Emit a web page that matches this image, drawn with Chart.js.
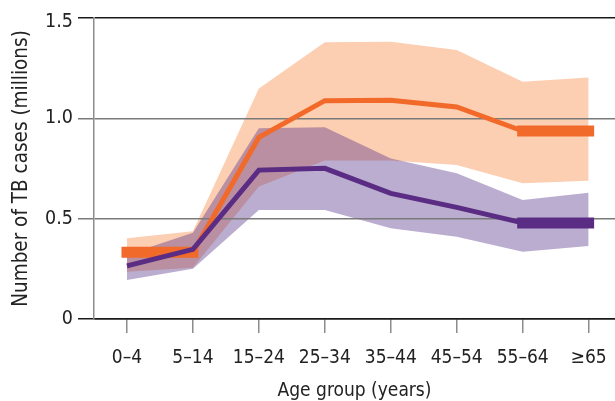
<!DOCTYPE html>
<html>
<head>
<meta charset="utf-8">
<script src="https://cdn.jsdelivr.net/npm/chart.js@4.4.0/dist/chart.umd.min.js"></script>
<style>
  html, body { margin: 0; padding: 0; background: #fff; }
  #wrap { width: 615px; height: 401px; }
</style>
</head>
<body>
<div id="wrap"><canvas id="tbChart" width="615" height="401"></canvas></div>
<script>
// age groups on the x axis
const ageGroups = ['0–4', '5–14', '15–24', '25–34', '35–44', '45–54', '55–64', '≥65'];

// orange series (best estimate, pooled groups, uncertainty band), millions
const menBest   = [null, 0.333, 0.905, 1.088, 1.090, 1.057, 0.937, null];
const menPooled = [0.333, 0.333, null, null, null, null, 0.937, 0.937];
const menHigh   = [0.402, 0.437, 1.149, 1.379, 1.382, 1.340, 1.182, 1.204];
const menLow    = [0.236, 0.255, 0.660, 0.790, 0.790, 0.767, 0.676, 0.689];

// purple series
const womenBest   = [0.265, 0.347, 0.742, 0.751, 0.626, 0.556, 0.479, null];
const womenPooled = [null, null, null, null, null, null, 0.479, 0.479];
const womenHigh   = [0.320, 0.430, 0.950, 0.955, 0.800, 0.726, 0.593, 0.629];
const womenLow    = [0.194, 0.250, 0.543, 0.543, 0.452, 0.410, 0.335, 0.364];

// y axis ticks
const yTicks = [0, 0.5, 1.0, 1.5];

const ORANGE = '#F26A2A';
const PURPLE = '#5B2C83';
const PEACH = '#FCCEB2';
const LAVENDER = 'rgba(85, 50, 135, 0.4)';
const FONT = "'Liberation Sans Narrow', 'DejaVu Sans Condensed', 'Liberation Sans', sans-serif";

const pts = values => values.map((v, i) => ({ x: i, y: v }));

const lineDefaults = { pointRadius: 0, pointHoverRadius: 0, tension: 0, fill: false, borderJoinStyle: 'miter' };
const bandDefaults = { pointRadius: 0, pointHoverRadius: 0, tension: 0, borderWidth: 0, borderColor: 'transparent' };

new Chart(document.getElementById('tbChart').getContext('2d'), {
  type: 'line',
  data: {
    datasets: [
      { ...lineDefaults, data: pts(womenPooled), borderColor: PURPLE, borderWidth: 11, borderCapStyle: 'square', order: 0 },
      { ...lineDefaults, data: pts(womenBest), borderColor: PURPLE, borderWidth: 5, order: 1 },
      { ...lineDefaults, data: pts(menPooled), borderColor: ORANGE, borderWidth: 11, borderCapStyle: 'square', order: 2 },
      { ...lineDefaults, data: pts(menBest), borderColor: ORANGE, borderWidth: 5, order: 3 },
      { ...bandDefaults, data: pts(womenHigh), fill: '+1', backgroundColor: LAVENDER, order: 4 },
      { ...bandDefaults, data: pts(womenLow), fill: false, order: 5 },
      { ...bandDefaults, data: pts(menHigh), fill: '+1', backgroundColor: PEACH, order: 6 },
      { ...bandDefaults, data: pts(menLow), fill: false, order: 7 }
    ]
  },
  options: {
    responsive: false,
    animation: false,
    events: [],
    layout: { padding: { top: 18, right: 0, bottom: 0, left: 0 } },
    scales: {
      x: {
        type: 'linear',
        min: -0.5,
        max: 7.4,
        afterBuildTicks: s => { s.ticks = ageGroups.map((_, i) => ({ value: i })); },
        afterFit: s => { s.height = 82; s.paddingLeft = 0; s.paddingRight = 0; },
        grid: { drawOnChartArea: false, drawTicks: true, tickLength: 14, color: '#8c8c8c', lineWidth: 1.5 },
        border: { display: true, color: '#1a1a1a', width: 1.5 },
        ticks: {
          autoSkip: false,
          maxRotation: 0,
          padding: 14,
          color: '#222',
          font: { family: FONT, size: 19 },
          callback: v => ageGroups[v] ?? ''
        },
        title: {
          display: true,
          text: 'Age group (years)',
          color: '#222',
          font: { family: FONT, size: 19, lineHeight: 1 },
          padding: 0
        }
      },
      y: {
        min: 0,
        max: 1.5,
        afterBuildTicks: s => { s.ticks = yTicks.map(v => ({ value: v })); },
        afterFit: s => { s.width = 94; },
        grid: {
          color: c => (c.tick.value === 0 || c.tick.value === 1.5) ? '#1a1a1a' : '#7a7a7a',
          lineWidth: 1.5,
          tickLength: 16
        },
        border: { display: true, color: '#8c8c8c', width: 1.5 },
        ticks: {
          padding: 5,
          color: '#222',
          // top label sits a little below its line in the original
          font: c => ({ family: FONT, size: 19.5, lineHeight: (c.tick && c.tick.value === 1.5) ? 0.4 : 1.2 }),
          callback: v => v === 0 ? '0' : (v === 1.5 ? ['', v.toFixed(1)] : v.toFixed(1))
        },
        title: {
          display: true,
          text: 'Number of TB cases (millions)',
          color: '#222',
          font: { family: FONT, size: 20.5, lineHeight: 1.2 },
          padding: { top: 9, bottom: 0 }
        }
      }
    },
    plugins: {
      legend: { display: false },
      tooltip: { enabled: false },
      filler: { drawTime: 'beforeDraw' }
    }
  }
});
</script>
</body>
</html>
